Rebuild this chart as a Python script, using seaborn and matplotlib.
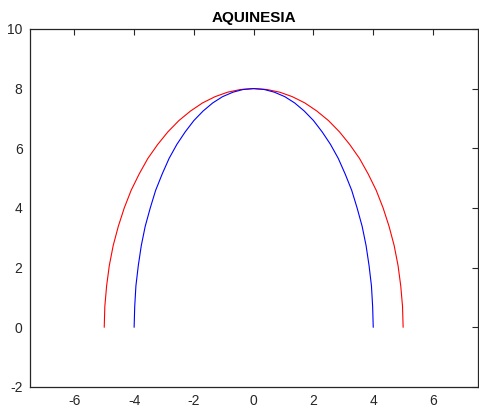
import matplotlib
matplotlib.use("Agg")
import matplotlib.pyplot as plt
import seaborn as sns

# outer curve (red)
red_x = [5.00, 4.98, 4.92, 4.83, 4.70, 4.53, 4.33, 4.10, 3.83, 3.54, 3.21, 2.87, 2.50,
         2.11, 1.71, 1.29, 0.87, 0.44, 0.00, -0.44, -0.87, -1.29, -1.71, -2.11, -2.50,
         -2.87, -3.21, -3.54, -3.83, -4.10, -4.33, -4.53, -4.70, -4.83, -4.92, -4.98, -5.00]
red_y = [0.00, 0.70, 1.39, 2.07, 2.74, 3.38, 4.00, 4.59, 5.14, 5.66, 6.13, 6.55, 6.93,
         7.25, 7.52, 7.73, 7.88, 7.97, 8.00, 7.97, 7.88, 7.73, 7.52, 7.25, 6.93,
         6.55, 6.13, 5.66, 5.14, 4.59, 4.00, 3.38, 2.74, 2.07, 1.39, 0.70, 0.00]

# inner curve (blue)
blue_x = [4.00, 3.98, 3.94, 3.86, 3.76, 3.63, 3.46, 3.28, 3.06, 2.83, 2.57, 2.29, 2.00,
          1.69, 1.37, 1.04, 0.69, 0.35, 0.00, -0.35, -0.69, -1.04, -1.37, -1.69, -2.00,
          -2.29, -2.57, -2.83, -3.06, -3.28, -3.46, -3.63, -3.76, -3.86, -3.94, -3.98, -4.00]
blue_y = [0.00, 0.70, 1.39, 2.07, 2.74, 3.38, 4.00, 4.59, 5.14, 5.66, 6.13, 6.55, 6.93,
          7.25, 7.52, 7.73, 7.88, 7.97, 8.00, 7.97, 7.88, 7.73, 7.52, 7.25, 6.93,
          6.55, 6.13, 5.66, 5.14, 4.59, 4.00, 3.38, 2.74, 2.07, 1.39, 0.70, 0.00]

x_ticks = [-6, -4, -2, 0, 2, 4, 6]
y_ticks = [-2, 0, 2, 4, 6, 8, 10]

sns.set_style("white")
plt.rcParams["font.family"] = ["Liberation Sans", "DejaVu Sans"]
plt.rcParams["axes.unicode_minus"] = False

fig = plt.figure(figsize=(4.79, 4.13), dpi=100)
ax = fig.add_axes([0.0616, 0.063, 0.936, 0.867])

sns.lineplot(x=red_x, y=red_y, sort=False, estimator=None,
             color="#ff0000", linewidth=0.8, ax=ax)
sns.lineplot(x=blue_x, y=blue_y, sort=False, estimator=None,
             color="#0000ff", linewidth=0.8, ax=ax)

ax.set_xlim(-7.5, 7.5)
ax.set_ylim(-2, 10)
ax.set_xticks(x_ticks)
ax.set_yticks(y_ticks)
ax.tick_params(direction="in", length=4, width=0.8, top=True, right=True,
               labelsize=10, colors="#262626", pad=5)
for s in ax.spines.values():
    s.set_color("#262626")
    s.set_linewidth(0.9)

ax.set_title("AQUINESIA", fontsize=11, fontweight="bold", pad=5, color="black")

fig.savefig("out.png", dpi=100)
